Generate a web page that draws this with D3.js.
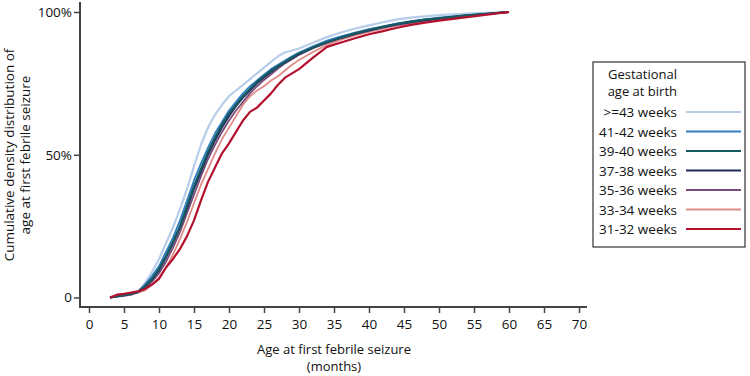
<!DOCTYPE html>
<html>
<head>
<meta charset="utf-8">
<script src="https://cdn.jsdelivr.net/npm/d3@7/dist/d3.min.js"></script>
<style>
  body { margin: 0; background: #fff; }
  svg text { font-family: "Open Sans", sans-serif; fill: #111; }
</style>
</head>
<body>
<div id="chart"></div>
<script>
// months at which each curve is sampled
const months = [3,4,5,6,7,8,9,10,11,12,13,14,15,16,17,18,19,20,21,22,23,24,25,26,27,28,29,30,
  32,34,36,38,40,42,44,46,48,50,52,54,56,58,60];

// cumulative share (%) per gestational age group
const w43   = [0,0.3,0.6,1,2,5,9,13.5,19,24.5,31,38,46,53.5,59.5,64,67.5,70.5,72.5,74.5,76.5,78.5,80.5,82.5,84.5,85.8,86.5,87.2,
  89.2,91.2,92.8,94.2,95.3,96.4,97.4,98,98.5,98.9,99.2,99.4,99.6,99.8,100];
const w4142 = [0,0.4,0.7,1.1,2,4.5,7.5,11,16,21,27,34,41,47,52.5,57.5,61.5,65.5,68.5,71.5,74,76,78,80,81.5,83,84.5,85.8,
  88,90,91.5,92.8,94,95,96,96.8,97.4,98,98.5,98.9,99.3,99.6,100];
const w3940 = [0,0.5,0.8,1.2,2,4,6.5,10,14.5,19.5,25,32,39,45,51,56,60.5,64.5,67.5,70.5,73,75.5,77.5,79.5,81,82.5,84,85.5,
  87.5,89.5,91,92.5,93.7,94.8,95.8,96.6,97.3,97.8,98.3,98.8,99.2,99.6,100];
const w3738 = [0,0.4,0.8,1.2,2,3.8,6.2,9.5,14,19,24.5,31,38,44,50,55,59.5,63.5,67,70,72.5,75,77,79,80.8,82.3,83.8,85.2,
  87.5,89.4,91,92.4,93.6,94.7,95.7,96.5,97.2,97.8,98.3,98.8,99.2,99.6,100];
const w3536 = [0,0.4,0.7,1.1,1.8,3.2,5.5,8.5,12.5,17.5,23,29.5,36,42.5,48.5,53.5,58,62,65.5,68.5,71.5,74,76.2,78.2,80.2,82,83.5,85,
  87.3,89.2,90.8,92.2,93.4,94.5,95.5,96.3,97,97.6,98.2,98.7,99.1,99.5,100];
const w3334 = [0,0.3,0.6,1,1.7,2.5,4.5,7,10.5,15,20.5,26.5,33,39.5,45,50.5,55.5,59.5,63.5,67.5,70.5,72.5,74,76,77.5,79.5,81.5,83.2,
  86,88.5,90.3,91.8,93,94.2,95.2,96,96.8,97.4,98,98.5,99,99.5,100];
const w3132 = [0,1,1.3,1.7,2.2,3,4.5,6.5,10.5,13.5,17,21.5,27,34,40.5,45.5,50.5,54,58,62,65,66.5,69,71.5,74.5,77,78.5,80,
  84,87.8,89.3,90.8,92.2,93.3,94.5,95.5,96.3,97,97.6,98.2,98.8,99.4,100];

const groups = ['>=43 weeks','41-42 weeks','39-40 weeks','37-38 weeks','35-36 weeks','33-34 weeks','31-32 weeks'];
const groupValues = [w43, w4142, w3940, w3738, w3536, w3334, w3132];
const groupColors = ['#b7cde9','#2f7fc4','#17595f','#1d2a5c','#7b4a78','#e08c88','#b3112e'];
// drawing order (last is on top)
const drawOrder = [0,1,5,4,3,2,6];

const xTicks = d3.range(0, 71, 5);
const yTicks = [0, 50, 100];
const yTickLabels = ['0','50%','100%'];

const width = 750, height = 376;
const svg = d3.select('#chart').append('svg')
  .attr('width', width).attr('height', height);

const x = d3.scaleLinear().domain([0, 70]).range([89, 579]);
const y = d3.scaleLinear().domain([0, 100]).range([297.5, 12]);

const axisColor = '#444';

// axes
const xAxisG = svg.append('g').attr('transform', 'translate(0,307)');
xAxisG.call(d3.axisBottom(x).tickValues(xTicks).tickSize(6).tickSizeOuter(0).tickFormat(d3.format('d')));
const yAxisG = svg.append('g').attr('transform', 'translate(80,0)');
yAxisG.call(d3.axisLeft(y).tickValues(yTicks).tickSize(6).tickSizeOuter(0)
  .tickFormat((d, i) => yTickLabels[i]));

[xAxisG, yAxisG].forEach(g => {
  g.select('.domain').remove();
  g.selectAll('line').attr('stroke', axisColor).attr('stroke-width', 1.5);
  g.selectAll('text').style('font-size', '13.5px').attr('fill', '#111');
});
xAxisG.selectAll('text').attr('dy', '0.95em');
yAxisG.selectAll('text').attr('x', -8);

// axis lines
svg.append('line').attr('x1', 80).attr('x2', 80).attr('y1', 2).attr('y2', 307.5)
  .attr('stroke', axisColor).attr('stroke-width', 2);
svg.append('line').attr('x1', 79).attr('x2', 587).attr('y1', 307).attr('y2', 307)
  .attr('stroke', axisColor).attr('stroke-width', 2);

// axis titles
const yTitle = svg.append('text')
  .attr('transform', 'translate(14,155) rotate(-90)')
  .style('text-anchor', 'middle').style('font-size', '13.5px');
yTitle.append('tspan').attr('x', 0).attr('dy', 0).text('Cumulative density distribution of');
yTitle.append('tspan').attr('x', 0).attr('dy', 16).text('age at first febrile seizure');

svg.append('text').attr('x', 334).attr('y', 354)
  .style('text-anchor', 'middle').style('font-size', '13px').text('Age at first febrile seizure');
svg.append('text').attr('x', 334).attr('y', 371)
  .style('text-anchor', 'middle').style('font-size', '13px').text('(months)');

// curves
const line = d3.line()
  .x(d => x(d[0]))
  .y(d => y(d[1]));

svg.append('g').selectAll('path')
  .data(drawOrder)
  .join('path')
  .attr('fill', 'none')
  .attr('stroke', i => groupColors[i])
  .attr('stroke-width', i => (i === 2 || i === 6 || i === 0) ? 2.2 : 1.8)
  .attr('stroke-linejoin', 'round')
  .attr('d', i => line(months.map((m, k) => [m, groupValues[i][k]])));

// legend
const legend = svg.append('g');
legend.append('rect')
  .attr('x', 593).attr('y', 62).attr('width', 152).attr('height', 185)
  .attr('fill', '#fff').attr('stroke', '#333').attr('stroke-width', 1.2);
legend.append('text').attr('x', 677).attr('y', 79)
  .style('text-anchor', 'end').style('font-size', '13px').text('Gestational');
legend.append('text').attr('x', 677).attr('y', 96)
  .style('text-anchor', 'end').style('font-size', '13px').text('age at birth');

const items = legend.selectAll('g.item')
  .data(groups)
  .join('g')
  .attr('class', 'item')
  .attr('transform', (d, i) => `translate(0,${112 + i * 19.5})`);
items.append('text')
  .attr('x', 677).attr('y', 5)
  .style('text-anchor', 'end').style('font-size', '13.5px')
  .text(d => d);
items.append('line')
  .attr('x1', 686).attr('x2', 741).attr('y1', 0).attr('y2', 0)
  .attr('stroke', (d, i) => groupColors[i])
  .attr('stroke-width', 2);
</script>
</body>
</html>
